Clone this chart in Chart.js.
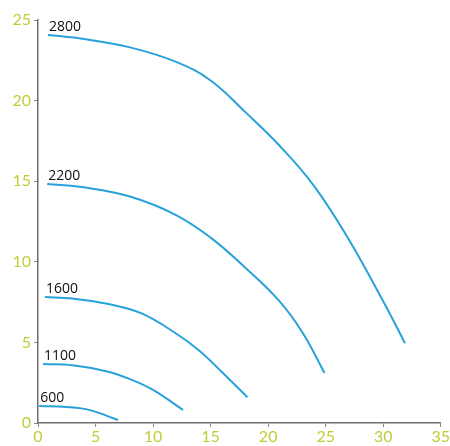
<!DOCTYPE html>
<html>
<head>
<meta charset="utf-8">
<script src="https://cdn.jsdelivr.net/npm/chart.js@4"></script>
<style>
  html, body { margin: 0; padding: 0; background: #fff; }
  #wrap { width: 450px; height: 446px; }
</style>
</head>
<body>
<div id="wrap"><canvas id="chart"></canvas></div>
<script>
// Curve labels (speed)
const speeds = ['2800', '2200', '1600', '1100', '600'];

// Curve points
const x2800 = [0.87, 4, 8, 12, 15, 18, 21, 24, 27, 30, 31.9];
const y2800 = [24.07, 23.82, 23.3, 22.4, 21.25, 19.3, 17.2, 14.7, 11.4, 7.55, 4.95];
const x2200 = [0.8, 4, 8, 12, 15, 18, 21, 23, 24.9];
const y2200 = [14.83, 14.62, 14.05, 12.9, 11.5, 9.65, 7.55, 5.6, 3.1];
const x1600 = [0.6, 3, 6, 9, 12, 14, 16, 18.2];
const y1600 = [7.82, 7.72, 7.4, 6.8, 5.55, 4.5, 3.15, 1.6];
const x1100 = [0.43, 3, 6, 8, 10, 12.6];
const y1100 = [3.66, 3.58, 3.2, 2.72, 2.05, 0.81];
const x600 = [0.1, 2.5, 4.5, 6.95];
const y600 = [1.05, 0.99, 0.8, 0.19];

const xTicks = [0, 5, 10, 15, 20, 25, 30, 35];
const yTicks = [0, 5, 10, 15, 20, 25];

const xs = [x2800, x2200, x1600, x1100, x600];
const ys = [y2800, y2200, y1600, y1100, y600];

const lineColor = '#27a2da';
const tickColor = '#c0cd38';

// Write the speed value above the start of each curve
const curveLabels = {
    id: 'curveLabels',
    afterDatasetsDraw(chart) {
        const ctx = chart.ctx;
        ctx.save();
        ctx.font = '14px "Open Sans", sans-serif';
        ctx.fillStyle = '#111';
        ctx.textAlign = 'left';
        ctx.textBaseline = 'bottom';
        chart.data.datasets.forEach((ds, i) => {
            const p = chart.getDatasetMeta(i).data[0];
            ctx.fillText(ds.label, p.x + 1, p.y - 1);
        });
        ctx.restore();
    }
};

const datasets = speeds.map((s, i) => ({
    label: s,
    data: xs[i].map((x, j) => ({ x: x, y: ys[i][j] })),
    showLine: true,
    borderColor: lineColor,
    borderWidth: 2,
    pointRadius: 0,
    tension: 0.4
}));

new Chart(document.getElementById('chart'), {
    type: 'scatter',
    data: { datasets: datasets },
    options: {
        responsive: true,
        maintainAspectRatio: false,
        animation: false,
        layout: { padding: { top: 20, right: 9, left: 0, bottom: 0 } },
        plugins: {
            legend: { display: false },
            tooltip: { enabled: false }
        },
        scales: {
            x: {
                type: 'linear',
                min: 0,
                max: 35,
                afterBuildTicks: (axis) => { axis.ticks = xTicks.map(v => ({ value: v })); },
                afterFit: (scale) => { scale.height = 23; },
                grid: { drawOnChartArea: false, drawTicks: true, tickLength: 4, color: '#888' },
                border: { color: '#6f6f6f', width: 1.5 },
                ticks: { color: tickColor, padding: 0, font: { family: 'Lato', size: 16 } }
            },
            y: {
                type: 'linear',
                min: 0,
                max: 25,
                afterBuildTicks: (axis) => { axis.ticks = yTicks.map(v => ({ value: v })); },
                afterFit: (scale) => { scale.width = 38; },
                grid: { drawOnChartArea: false, drawTicks: true, tickLength: 4, color: '#888' },
                border: { color: '#6f6f6f', width: 1.5 },
                ticks: { color: tickColor, padding: 3, font: { family: 'Lato', size: 16 } }
            }
        }
    },
    plugins: [curveLabels]
});
</script>
</body>
</html>
